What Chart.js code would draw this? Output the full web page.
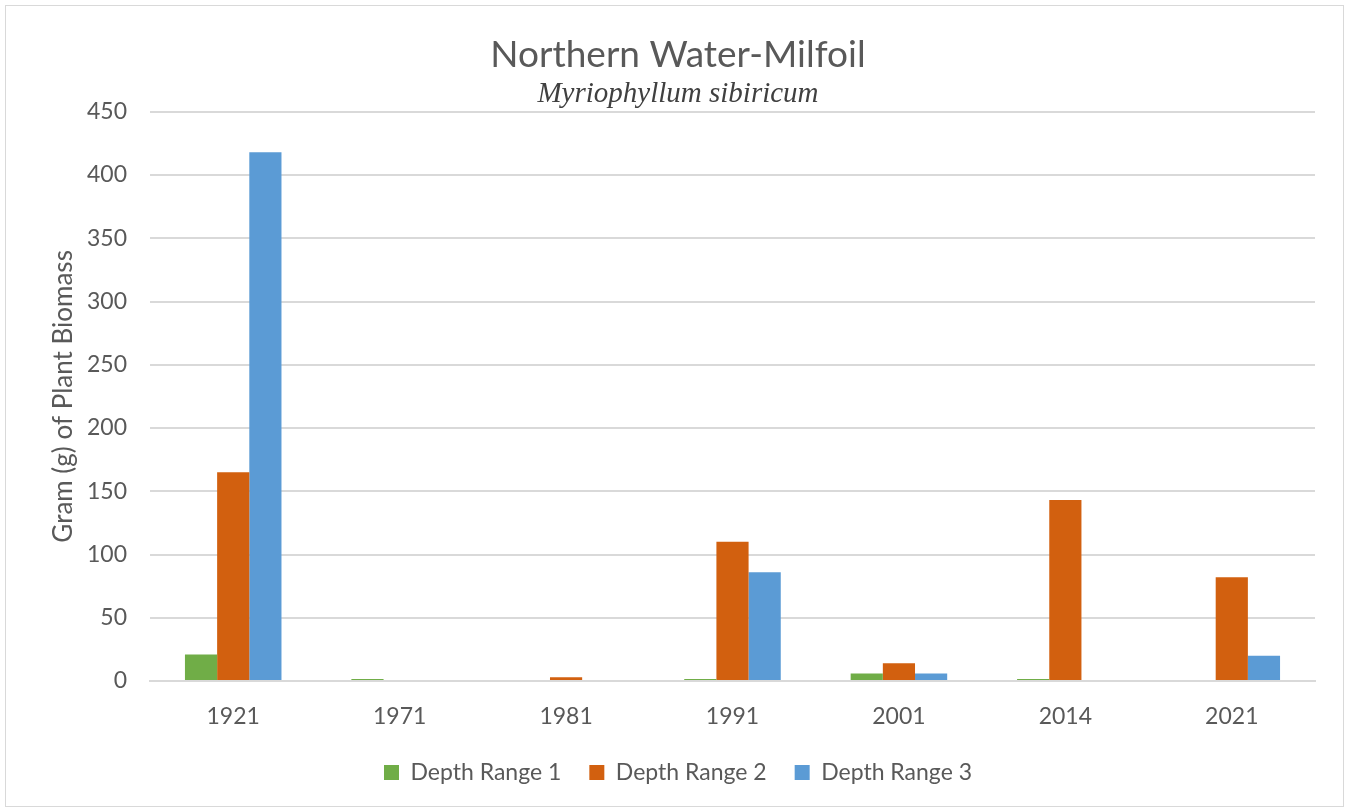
<!DOCTYPE html>
<html>
<head>
    <title>Northern Water-Milfoil</title>
    <script src="https://cdn.jsdelivr.net/npm/chart.js"></script>
    <style>
        html, body { margin: 0; padding: 0; background: #ffffff; }
        .chart-box {
            position: absolute;
            left: 5px; top: 5px;
            width: 1339px; height: 802px;
            border: 1px solid #d9d9d9;
            box-sizing: border-box;
        }
        .chart-box canvas { display: block; }
    </style>
</head>
<body>
    <div class="chart-box">
        <canvas id="biomass-chart" width="1337" height="800"></canvas>
    </div>

    <script>
        // 조사 연도와 수심 구간별 바이오매스 (g)
        const years = ['1921', '1971', '1981', '1991', '2001', '2014', '2021'];
        const depthRange1 = [21, 1.5, 0, 1.5, 6, 1.5, 0];
        const depthRange2 = [165, 0, 3, 110, 14, 143, 82];
        const depthRange3 = [418, 0, 0, 86, 6, 0, 20];

        const textColor = '#595959';
        const gridColor = '#d9d9d9';
        const baseFont = 'Lato, "Open Sans", sans-serif';

        const ctx = document.getElementById('biomass-chart').getContext('2d');
        new Chart(ctx, {
            type: 'bar',
            data: {
                labels: years,
                datasets: [
                    {
                        label: 'Depth Range 1',
                        data: depthRange1,
                        backgroundColor: '#70ad47'
                    },
                    {
                        label: 'Depth Range 2',
                        data: depthRange2,
                        backgroundColor: '#d2600f'
                    },
                    {
                        label: 'Depth Range 3',
                        data: depthRange3,
                        backgroundColor: '#5b9bd5'
                    }
                ]
            },
            options: {
                responsive: false,
                animation: false,
                layout: {
                    padding: { left: 35, right: 28, top: 27, bottom: 12 }
                },
                datasets: {
                    bar: {
                        barPercentage: 1.0,
                        categoryPercentage: 0.58,
                        borderWidth: 0
                    }
                },
                plugins: {
                    title: {
                        display: true,
                        text: 'Northern Water-Milfoil',
                        color: textColor,
                        font: { family: baseFont, size: 37, weight: 'normal', lineHeight: 1.2 },
                        padding: { top: 0, bottom: 0 }
                    },
                    subtitle: {
                        display: true,
                        text: 'Myriophyllum sibiricum',
                        color: '#404040',
                        font: { family: '"Liberation Serif", serif', size: 29, style: 'italic', lineHeight: 1.15 },
                        padding: { top: 0, bottom: 1 }
                    },
                    legend: {
                        display: true,
                        position: 'bottom',
                        labels: {
                            color: textColor,
                            font: { family: baseFont, size: 23 },
                            boxWidth: 15,
                            boxHeight: 15,
                            padding: 28
                        }
                    },
                    tooltip: { enabled: false }
                },
                scales: {
                    x: {
                        grid: { display: false, drawTicks: false },
                        border: { display: true, color: gridColor, width: 2 },
                        ticks: {
                            color: textColor,
                            font: { family: baseFont, size: 23 },
                            padding: 22
                        },
                        // 라벨 아래 여백을 줄여 범례를 위로 붙임
                        afterFit: function(scale) { scale.height = 52; }
                    },
                    y: {
                        min: 0,
                        max: 450,
                        ticks: {
                            stepSize: 50,
                            color: textColor,
                            font: { family: baseFont, size: 23 },
                            padding: 23
                        },
                        grid: { color: gridColor, lineWidth: 2, drawTicks: false },
                        border: { display: false },
                        title: {
                            display: true,
                            text: 'Gram (g) of Plant Biomass',
                            color: textColor,
                            font: { family: baseFont, size: 26 },
                            padding: { top: 7, bottom: 0 }
                        },
                        // 세로축 폭 고정: 그래프 영역 왼쪽 위치 맞춤
                        afterFit: function(scale) { scale.width = 109; }
                    }
                }
            }
        });
    </script>
</body>
</html>
